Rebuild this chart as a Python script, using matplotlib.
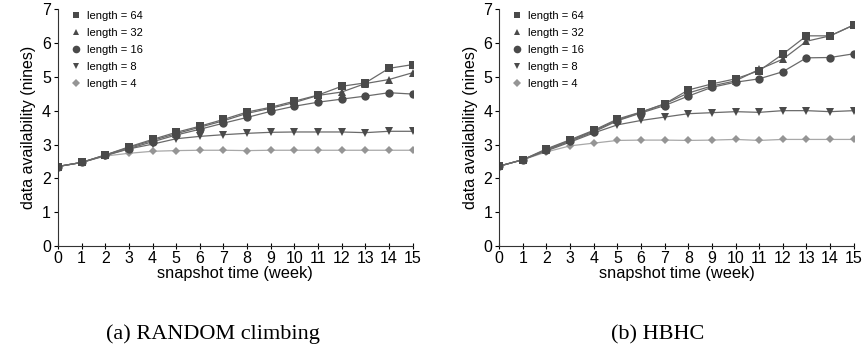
import matplotlib.pyplot as plt
from matplotlib.lines import Line2D

weeks = list(range(16))

# (a) RANDOM climbing
rand_64 = [2.35, 2.47, 2.69, 2.93, 3.15, 3.36, 3.54, 3.74, 3.96, 4.10, 4.28, 4.46, 4.72, 4.82, 5.25, 5.36]
rand_32 = [2.35, 2.47, 2.69, 2.91, 3.12, 3.32, 3.51, 3.70, 3.92, 4.07, 4.24, 4.45, 4.55, 4.80, 4.92, 5.12]
rand_16 = [2.35, 2.47, 2.68, 2.88, 3.08, 3.28, 3.45, 3.63, 3.80, 3.98, 4.13, 4.25, 4.34, 4.43, 4.53, 4.49]
rand_8 = [2.35, 2.47, 2.67, 2.87, 3.01, 3.17, 3.24, 3.29, 3.33, 3.36, 3.37, 3.37, 3.37, 3.35, 3.39, 3.39]
rand_4 = [2.35, 2.47, 2.66, 2.74, 2.80, 2.82, 2.83, 2.83, 2.82, 2.83, 2.83, 2.83, 2.83, 2.83, 2.83, 2.83]

# (b) HBHC
hbhc_64 = [2.36, 2.55, 2.87, 3.14, 3.42, 3.75, 3.96, 4.20, 4.61, 4.79, 4.94, 5.18, 5.67, 6.21, 6.21, 6.53]
hbhc_32 = [2.36, 2.55, 2.85, 3.12, 3.40, 3.72, 3.95, 4.20, 4.52, 4.73, 4.88, 5.22, 5.52, 6.05, 6.21, 6.53]
hbhc_16 = [2.36, 2.55, 2.83, 3.10, 3.37, 3.70, 3.93, 4.15, 4.43, 4.69, 4.84, 4.94, 5.15, 5.56, 5.57, 5.68]
hbhc_8 = [2.36, 2.55, 2.81, 3.07, 3.34, 3.58, 3.71, 3.81, 3.91, 3.94, 3.97, 3.95, 4.00, 4.00, 3.97, 4.00]
hbhc_4 = [2.36, 2.55, 2.78, 2.96, 3.04, 3.12, 3.13, 3.13, 3.12, 3.13, 3.15, 3.12, 3.15, 3.15, 3.15, 3.15]

labels = ['length = 64', 'length = 32', 'length = 16', 'length = 8', 'length = 4']
markers = ['s', '^', 'o', 'v', 'D']
marker_sizes = [5.5, 5.5, 6, 5.5, 4.5]
dark = '#4a4a4a'
light = '#959595'
marker_cols = [dark, dark, dark, dark, light]
line_cols = ['#6a6a6a', '#6a6a6a', '#6a6a6a', '#6a6a6a', '#a8a8a8']

captions = ['(a) RANDOM climbing', '(b) HBHC']

plt.rcParams['font.family'] = ['Liberation Sans', 'DejaVu Sans']

fig = plt.figure(figsize=(8.65, 3.5), dpi=100)
ax1 = fig.add_axes([0.067, 0.297, 0.410, 0.677])
ax2 = fig.add_axes([0.577, 0.297, 0.410, 0.677])

panels = [
    (ax1, [rand_64, rand_32, rand_16, rand_8, rand_4]),
    (ax2, [hbhc_64, hbhc_32, hbhc_16, hbhc_8, hbhc_4]),
]

for ax, series in panels:
    # draw the light series first so dark ones sit on top
    for i in reversed(range(len(series))):
        ax.plot(weeks, series[i], color=line_cols[i], lw=0.9, marker=markers[i],
                ms=marker_sizes[i], mfc=marker_cols[i], mec=marker_cols[i], mew=0)
    ax.set_xlim(0, 15)
    ax.set_ylim(0, 7)
    ax.set_xticks(weeks)
    ax.set_yticks(range(8))
    ax.spines['top'].set_visible(False)
    ax.spines['right'].set_visible(False)
    for s in ['left', 'bottom']:
        ax.spines[s].set_linewidth(0.8)
        ax.spines[s].set_color('#333333')
    ax.tick_params(axis='x', direction='inout', length=5, width=0.8, labelsize=11.5, pad=1)
    ax.tick_params(axis='y', direction='out', length=3, width=0.8, labelsize=11.5, pad=2)
    ax.set_xlabel('snapshot time (week)', fontsize=11.8, labelpad=0)
    ax.set_ylabel('data availability (nines)', fontsize=11.5, labelpad=4)

    handles = [Line2D([], [], ls='none', marker=markers[i], ms=marker_sizes[i] - 0.5,
                      mfc=marker_cols[i], mec=marker_cols[i], mew=0)
               for i in range(len(labels))]
    ax.legend(handles, labels, loc='upper left', bbox_to_anchor=(0.02, 1.02),
              frameon=False, fontsize=8, handlelength=0.8, handletextpad=0.6,
              labelspacing=0.62, borderaxespad=0.2)

serif = ['Liberation Serif', 'DejaVu Serif']
fig.text(0.246, 0.03, captions[0], ha='center', va='baseline', family=serif, fontsize=16)
fig.text(0.760, 0.03, captions[1], ha='center', va='baseline', family=serif, fontsize=16)

fig.savefig('out.png', dpi=100)
